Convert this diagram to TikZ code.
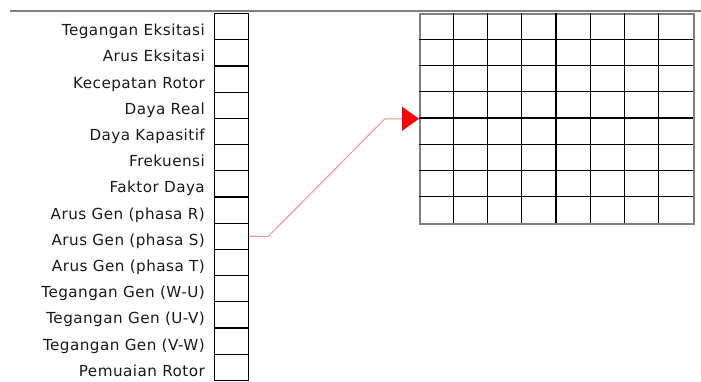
\documentclass[tikz,border=0pt]{standalone}
\usepackage{fontspec}
\setmainfont{DejaVu Sans}
\usetikzlibrary{arrows.meta}
\begin{document}
\begin{tikzpicture}[x=1pt,y=-1pt,
  cell/.style={draw=black, line width=1.2pt, minimum width=34pt, minimum height=26.2pt, inner sep=0pt, anchor=north west},
  lbl/.style={anchor=base east, inner sep=0pt, font=\fontsize{15.2}{17}\selectfont\addfontfeature{LetterSpace=3}, text=black!90},
  gridbox/.style={draw=gray, line width=1.5pt, minimum width=274pt, minimum height=210pt, inner sep=0pt, anchor=north west},
  link/.style={draw={rgb,255:red,255;green,140;blue,140}, line width=1pt}
]
\useasboundingbox (0,0) rectangle (701,381);
\draw[gray, line width=2.2pt] (10,11) -- (701,11);
\foreach \t [count=\i from 0] in {Tegangan Eksitasi,Arus Eksitasi,Kecepatan Rotor,Daya Real,Daya Kapasitif,Frekuensi,Faktor Daya,Arus Gen (phasa R),Arus Gen (phasa S),Arus Gen (phasa T),Tegangan Gen (W-U),Tegangan Gen (U-V),Tegangan Gen (V-W),Pemuaian Rotor}{
  \node[cell] (b\i) at (214,13+\i*26.2) {};
  \node[lbl] (l\i) at (205,13+\i*26.2+22.7) {\t};
}
\node[gridbox] (grid) at (419,13) {};
\foreach \c in {1,...,7}{
  \draw[black, line width=1.2pt] (419+\c*34.25,13) -- (419+\c*34.25,223);
  \draw[black, line width=1.2pt] (419,13+\c*26.25) -- (693,13+\c*26.25);
}
\draw[link, -{Triangle[length=17pt,width=24pt,color=red,fill=red]}] (b8.east) -- ++(19,0) -- ([xshift=-34pt]grid.west) -- (grid.west);
\end{tikzpicture}
\end{document}
